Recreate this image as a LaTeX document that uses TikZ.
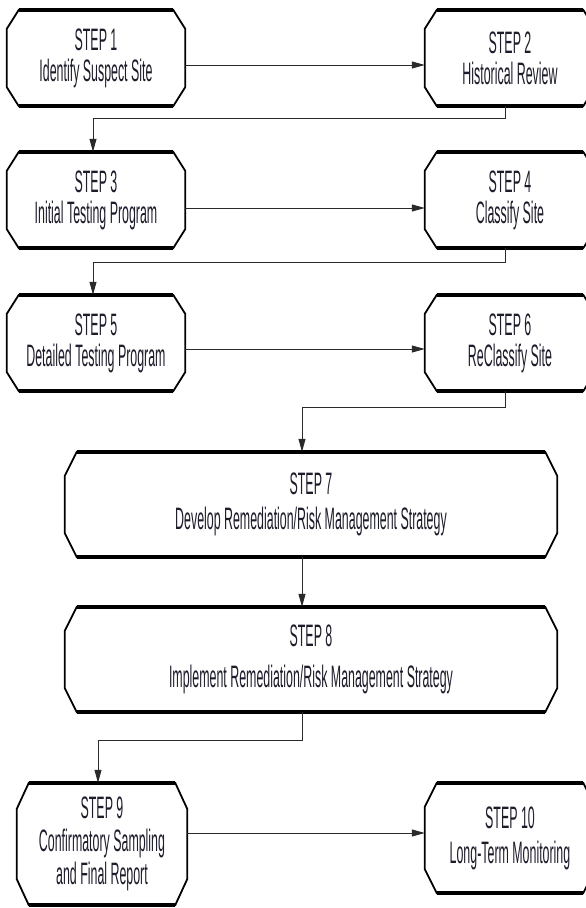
\documentclass[tikz,border=0pt]{standalone}
\usepackage{fontspec}
\setmainfont{Liberation Sans}[FakeStretch=0.4]
\usetikzlibrary{arrows.meta}
\definecolor{inkc}{HTML}{1C1C2A}
\definecolor{wirec}{HTML}{2A2A2A}
\tikzset{
  stepbox/.style={rectangle, inner sep=0pt, align=center, text=inkc,
    font=\fontsize{31}{31}\selectfont},
  sideline/.style={draw=black, line width=1.8pt, line join=miter},
  edgeline/.style={draw=black, line width=3.6pt, line cap=butt},
  flow/.style={draw=wirec, line width=1pt, -{Triangle[length=13pt,width=7pt]}},
}
\begin{document}
\begin{tikzpicture}[x=1pt,y=-1pt]
\useasboundingbox (0,0) rectangle (586,908);

% step boxes
\node[stepbox, minimum width=178pt, minimum height=96pt]  (b1)  at (96,58)    {STEP 1\\Identify Suspect Site};
\node[stepbox, minimum width=170pt, minimum height=96pt]  (b2)  at (510,58)   {STEP 2\\Historical Review};
\node[stepbox, minimum width=178pt, minimum height=96pt]  (b3)  at (96,200)   {STEP 3\\Initial Testing Program};
\node[stepbox, minimum width=170pt, minimum height=96pt]  (b4)  at (510,200)  {STEP 4\\Classify Site};
\node[stepbox, minimum width=178pt, minimum height=96pt]  (b5)  at (96,343)   {STEP 5\\Detailed Testing Program};
\node[stepbox, minimum width=170pt, minimum height=96pt]  (b6)  at (510,343)  {STEP 6\\ReClassify Site};
\node[stepbox, minimum width=492pt, minimum height=105pt, font=\fontsize{31}{35}\selectfont] (b7) at (311,504.5) {STEP 7\\Develop Remediation/Risk Management Strategy};
\node[stepbox, minimum width=492pt, minimum height=105pt, font=\fontsize{31}{41}\selectfont] (b8) at (311,659.5) {STEP 8\\Implement Remediation/Risk Management Strategy};
\node[stepbox, minimum width=170pt, minimum height=122pt, font=\fontsize{31}{33}\selectfont] (b9) at (102,844) {STEP 9\\Confirmatory Sampling\\and Final Report};
\node[stepbox, minimum width=170pt, minimum height=110pt, font=\fontsize{31}{35}\selectfont] (b10) at (510,838) {STEP 10\\Long-Term Monitoring};

% chamfered outlines, heavy top and bottom edges
\foreach \n/\cy in {b1/19,b2/19,b3/19,b4/19,b5/19,b6/19,b7/24,b8/24,b9/26,b10/24} {
  \draw[sideline] ([xshift=12pt]\n.north west) -- ([xshift=-12pt]\n.north east)
    -- ([yshift=-\cy pt]\n.north east) -- ([yshift=\cy pt]\n.south east)
    -- ([xshift=-12pt]\n.south east) -- ([xshift=12pt]\n.south west)
    -- ([yshift=\cy pt]\n.south west) -- ([yshift=-\cy pt]\n.north west) -- cycle;
  \draw[edgeline] ([xshift=12pt]\n.north west) -- ([xshift=-12pt]\n.north east);
  \draw[edgeline] ([xshift=12pt]\n.south west) -- ([xshift=-12pt]\n.south east);
}

% connectors
\draw[flow] ([yshift=-7pt]b1.east) -- ([yshift=-7pt]b1.east -| b2.west);
\draw[flow] ([xshift=-5pt]b2.south) -- ++(0,12) -| ([xshift=-3pt]b3.north);
\draw[flow] ([yshift=-8pt]b3.east) -- ([yshift=-8pt]b3.east -| b4.west);
\draw[flow] ([xshift=-5pt]b4.south) -- ++(0,14) -| ([xshift=-3pt]b5.north);
\draw[flow] ([yshift=-6pt]b5.east) -- ([yshift=-6pt]b5.east -| b6.west);
\draw[flow] ([xshift=-5pt]b6.south) -- ++(0,16) -| ([xshift=-9pt]b7.north);
\draw[flow] ([xshift=-9pt]b7.south) -- ([xshift=-9pt]b8.north);
\draw[flow] ([xshift=-9pt]b8.south) -- ++(0,28) -| ([xshift=-4pt]b9.north);
\draw[flow] ([yshift=5pt]b10.west -| b9.east) -- ([yshift=5pt]b10.west);
\end{tikzpicture}
\end{document}
